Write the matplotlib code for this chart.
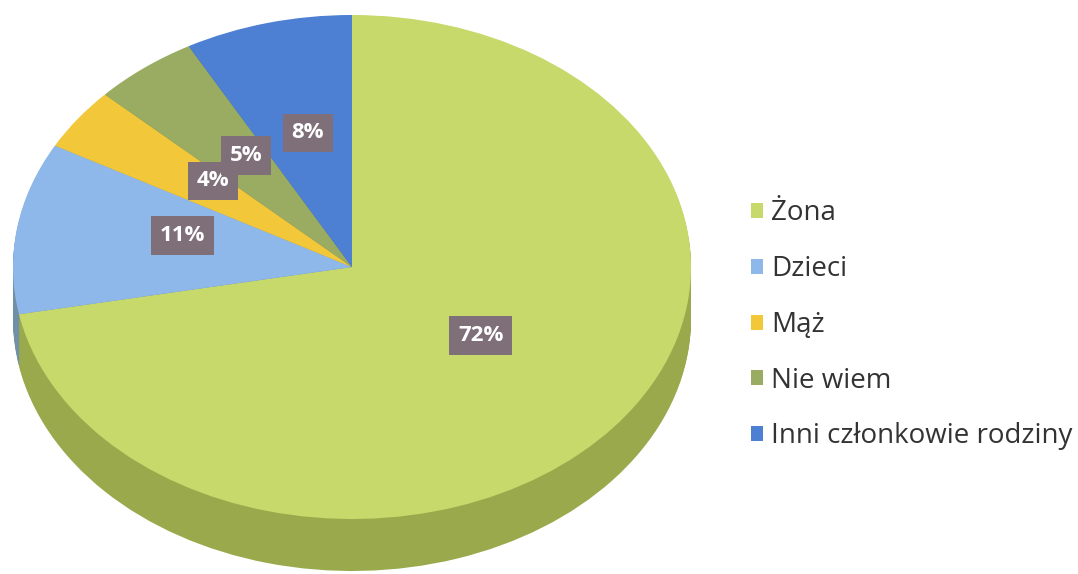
import matplotlib.pyplot as plt
import matplotlib.colors as mcolors
import matplotlib.transforms as mtransforms

# data
labels = ["Żona", "Dzieci", "Mąż", "Nie wiem", "Inni członkowie rodziny"]
values = [72, 11, 4, 5, 8]
colors = ["#c6d96a", "#8fb8ea", "#f2c83a", "#9aac62", "#4d80d2"]

plt.rcParams['font.family'] = ['Open Sans', 'DejaVu Sans']

fig = plt.figure(figsize=(10.78, 5.74), dpi=100)
ax = fig.add_axes([0, 0, 1, 1])

# pixel mapping: x -> cx + rx*x, y(from top) -> cy - ry*y
cx, cy, rx, ry = 352, 267, 339, 252
depth = 52 / ry

# darker side of the "3d" pie, stacked layers
side_colors = []
for c in colors:
    r, g, b = mcolors.to_rgb(c)
    side_colors.append((r * 0.78, g * 0.78, b * 0.72))

n_layers = 40
for i in range(n_layers):
    yoff = -depth + depth * i / n_layers
    ax.pie(values, colors=side_colors, startangle=90, counterclock=False,
           center=(0, yoff), radius=1, wedgeprops=dict(linewidth=0))

# top face
wedges, texts, autotexts = ax.pie(
    values, colors=colors, startangle=90, counterclock=False,
    center=(0, 0), radius=1, autopct='%1.0f%%', pctdistance=0.5,
    wedgeprops=dict(linewidth=0),
    textprops=dict(color='white', fontsize=16, fontweight='bold'))

# labels sit a little higher in the original (perspective)
lift = mtransforms.offset_copy(ax.transData, fig=fig, x=-2, y=12, units='dots')
for t in autotexts:
    t.set_transform(lift)
    t.set_bbox(dict(boxstyle='square,pad=0.4', facecolor='#7e6f79',
                    edgecolor='none'))

ax.set_aspect('auto')
ax.set_xlim(-cx / rx, (1078 - cx) / rx)
ax.set_ylim((cy - 574) / ry, cy / ry)
ax.axis('off')

leg = ax.legend(wedges, labels, loc='upper left', bbox_to_anchor=(0.686, 0.672),
                frameon=False, fontsize=20, handlelength=0.45, handleheight=0.45,
                handletextpad=0.3, labelspacing=1.0, borderaxespad=0)
for txt in leg.get_texts():
    txt.set_color('#333333')

fig.savefig("out.png", dpi=100, facecolor='white')
